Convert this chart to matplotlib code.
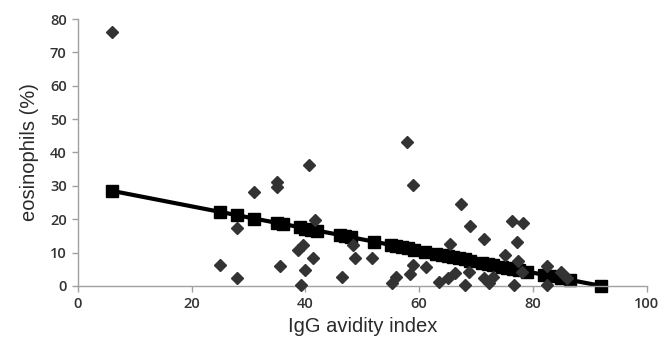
import matplotlib
matplotlib.use("Agg")
import matplotlib.pyplot as plt

# observed data (diamonds)
obs_x = [6, 25, 28, 28, 31, 35, 35, 35.5, 38.7, 39.6, 39.3, 40, 40.7, 41.4, 41.6,
         46.4, 48.3, 48.7, 51.7, 55.2, 56.0, 57.8, 58.3, 58.9, 58.9, 61.2, 63.5,
         65.0, 65.4, 66.3, 67.3, 68.0, 68.7, 68.9, 71.4, 71.4, 72.2, 72.9, 75.0,
         76.3, 76.7, 77.2, 77.3, 78.0, 78.2, 82.4, 82.4, 85.0, 86.0]
obs_y = [76, 6.3, 17.3, 2.5, 28.1, 31.2, 29.7, 6.0, 10.8, 12.3, 0.3, 4.9, 36.2, 8.3, 19.8,
         2.8, 12.3, 8.4, 8.4, 0.9, 2.6, 43.1, 3.6, 6.3, 30.2, 5.8, 1.2,
         2.4, 12.6, 3.9, 24.6, 0.4, 4.2, 18.0, 14.0, 2.4, 1.0, 2.6, 9.3,
         19.4, 0.3, 13.2, 7.5, 4.2, 18.9, 6.0, 0.2, 4.2, 2.4]

# predicted values (squares, regression line)
fit_x = [6, 25, 28, 31, 35, 36, 39, 40, 41, 42, 46, 47, 48, 52, 55, 56, 57, 58, 59,
         61, 63, 64, 65, 66, 67, 68, 69, 71, 72, 73, 74.5, 75.5, 76.5, 77.5, 79,
         82, 83, 85, 86.5, 92]
fit_y = [28.5, 22.2, 21.2, 20.2, 18.9, 18.6, 17.6, 17.2, 16.9, 16.6, 15.3, 14.9, 14.6,
         13.3, 12.3, 11.9, 11.6, 11.3, 10.9, 10.3, 9.6, 9.3, 9.0, 8.6, 8.3, 8.0, 7.6,
         7.0, 6.6, 6.3, 5.8, 5.5, 5.1, 4.8, 4.3, 3.3, 3.0, 2.3, 1.8, 0.0]

x_ticks = [0, 20, 40, 60, 80, 100]
y_ticks = [0, 10, 20, 30, 40, 50, 60, 70, 80]

fig = plt.figure(figsize=(6.71, 3.40), dpi=100)
ax = fig.add_axes([0.116, 0.159, 0.848, 0.785])

ax.plot(fit_x, fit_y, color="black", lw=3, marker="s", markersize=9,
        zorder=2, clip_on=False)
ax.plot(obs_x, obs_y, linestyle="none", marker="D", markersize=6.3,
        color="#333333", zorder=3, clip_on=False)

ax.set_xlim(0, 100)
ax.set_ylim(0, 80)
ax.set_xticks(x_ticks)
ax.set_yticks(y_ticks)

for s in ["top", "right"]:
    ax.spines[s].set_visible(False)
for s in ["left", "bottom"]:
    ax.spines[s].set_color("#a0a0a0")
    ax.spines[s].set_linewidth(1.0)

ax.tick_params(axis="both", direction="out", length=4, width=1, color="#a0a0a0",
               labelcolor="#333333", pad=4)
for lab in ax.get_xticklabels() + ax.get_yticklabels():
    lab.set_fontfamily("Open Sans")
    lab.set_fontsize(10.5)
    lab.set_fontweight("semibold")

ax.set_xlabel("IgG avidity index", family="Liberation Sans", fontsize=14.5,
              color="#2a2a2a", labelpad=4)
ax.set_ylabel("eosinophils (%)", family="Liberation Sans", fontsize=14.5,
              color="#2a2a2a", labelpad=8)

fig.savefig("out.png", dpi=100, facecolor="white")
